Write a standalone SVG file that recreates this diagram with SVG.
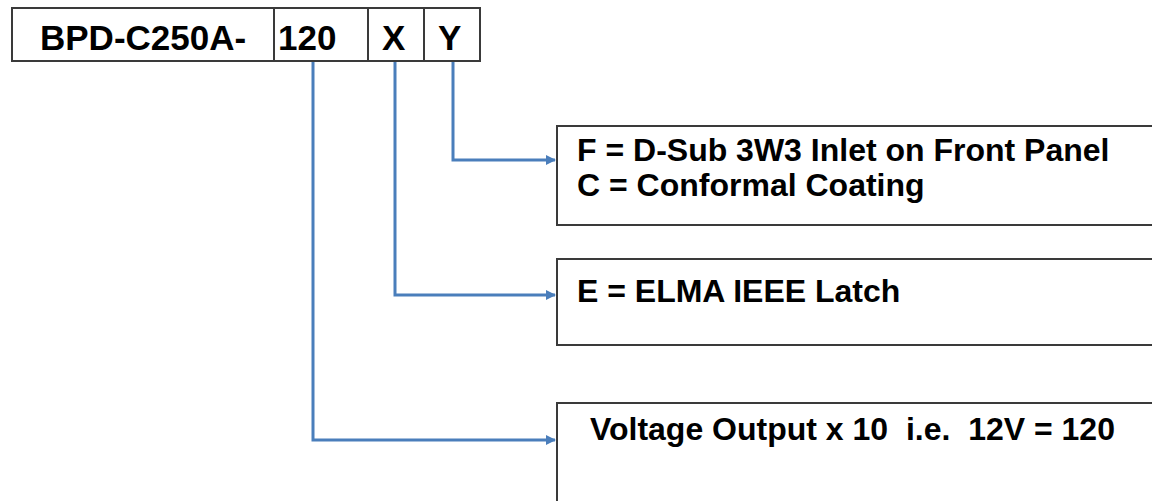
<svg xmlns="http://www.w3.org/2000/svg" width="1152" height="501" viewBox="0 0 1152 501">
<style>
.box{fill:#fff;stroke:#3a3a3a;stroke-width:2}
.t{font-family:"Liberation Sans",Arial,sans-serif;font-weight:bold;fill:#000;white-space:pre}
.c{fill:none;stroke:#4a7ebb;stroke-width:3}
</style>
<defs>
<marker id="ah" markerWidth="10" markerHeight="10" refX="9" refY="5" orient="auto" markerUnits="userSpaceOnUse">
<path d="M0,0 L10,5 L0,10 Z" fill="#4a7ebb"/>
</marker>
</defs>
<rect width="1152" height="501" fill="#fff"/>
<g id="part-number">
<rect class="box" x="12" y="8" width="468" height="53"/>
<line class="box" x1="274" y1="8" x2="274" y2="61"/>
<line class="box" x1="368" y1="8" x2="368" y2="61"/>
<line class="box" x1="424" y1="8" x2="424" y2="61"/>
<text class="t" x="40" y="50" font-size="35">BPD-C250A-</text>
<text class="t" x="278" y="50" font-size="35">120</text>
<text class="t" x="382" y="50" font-size="35">X</text>
<text class="t" x="438" y="50" font-size="35">Y</text>
</g>
<g id="option-y">
<rect class="box" x="557" y="126" width="600" height="99"/>
<text class="t" x="577" y="161" font-size="32">F = D-Sub 3W3 Inlet on Front Panel</text>
<text class="t" x="577" y="196" font-size="32">C = Conformal Coating</text>
</g>
<g id="option-x">
<rect class="box" x="557" y="259" width="600" height="86"/>
<text class="t" x="577" y="302" font-size="32">E = ELMA IEEE Latch</text>
</g>
<g id="voltage">
<rect class="box" x="557" y="403" width="600" height="110"/>
<text class="t" x="590" y="440" font-size="32" xml:space="preserve">Voltage Output x 10  i.e.  12V = 120</text>
</g>
<g id="connectors">
<path class="c" d="M453,62 V160 H555" marker-end="url(#ah)"/>
<path class="c" d="M395,62 V295 H555" marker-end="url(#ah)"/>
<path class="c" d="M313,62 V440 H555" marker-end="url(#ah)"/>
</g>
</svg>
